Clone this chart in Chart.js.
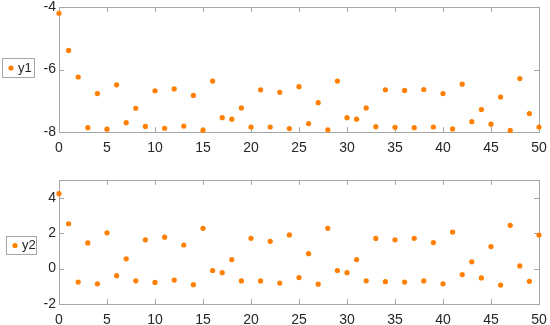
<!DOCTYPE html>
<html>
<head>
<meta charset="utf-8">
<script src="https://cdn.jsdelivr.net/npm/chart.js@4"></script>
<style>
  html, body { margin: 0; padding: 0; background: #fff; }
  .panel { position: absolute; left: 0; width: 550px; }
  #top { top: 0; height: 155px; }
  #bottom { top: 155px; height: 170px; }
</style>
</head>
<body>
<div class="panel" id="top"><canvas id="chart1" width="550" height="155"></canvas></div>
<div class="panel" id="bottom"><canvas id="chart2" width="550" height="170"></canvas></div>
<script>
// data
const xValues = [0, 1, 2, 3, 4, 5, 6, 7, 8, 9, 10, 11, 12, 13, 14, 15, 16, 17, 18, 19, 20,
  21, 22, 23, 24, 25, 26, 27, 28, 29, 30, 31, 32, 33, 34, 35, 36, 37, 38, 39, 40,
  41, 42, 43, 44, 45, 46, 47, 48, 49, 50];

const y1Values = [-4.20, -5.39, -6.24, -7.86, -6.77, -7.91, -6.49, -7.70, -7.24, -7.82, -6.68,
  -7.88, -6.62, -7.81, -6.83, -7.94, -6.37, -7.54, -7.59, -7.23, -7.84,
  -6.65, -7.84, -6.73, -7.89, -6.55, -7.73, -7.06, -7.93, -6.37, -7.54,
  -7.59, -7.23, -7.83, -6.65, -7.85, -6.67, -7.86, -6.64, -7.84, -6.77,
  -7.90, -6.47, -7.67, -7.28, -7.75, -6.88, -7.95, -6.29, -7.41, -7.84];

const y2Values = [4.23, 2.53, -0.76, 1.45, -0.86, 2.02, -0.40, 0.55, -0.69, 1.62, -0.78,
  1.77, -0.65, 1.33, -0.91, 2.27, -0.11, -0.23, 0.51, -0.70, 1.71,
  -0.70, 1.54, -0.82, 1.90, -0.51, 0.84, -0.88, 2.27, -0.11, -0.23,
  0.51, -0.69, 1.70, -0.74, 1.62, -0.76, 1.71, -0.70, 1.47, -0.86,
  2.06, -0.34, 0.38, -0.53, 1.24, -0.93, 2.44, 0.15, -0.72, 1.89];

const xTicks = [0, 5, 10, 15, 20, 25, 30, 35, 40, 45, 50];
const y1Ticks = [-8, -6, -4];
const y2Ticks = [-2, 0, 2, 4];

const ORANGE = '#ff7f00';
const FRAME = '#a6a6a6';
const TEXT = '#262626';
const FONT = { family: '"Liberation Sans", Arial, sans-serif', size: 14 };

// axes box with inward ticks on all four sides
const frameBox = {
  id: 'frameBox',
  beforeDatasetsDraw(chart) {
    const { ctx, chartArea: a, scales } = chart;
    const len = 5;
    ctx.save();
    ctx.strokeStyle = FRAME;
    ctx.lineWidth = 1;
    ctx.strokeRect(Math.round(a.left) + 0.5, Math.round(a.top) + 0.5,
      Math.round(a.right - a.left), Math.round(a.bottom - a.top));
    ctx.beginPath();
    scales.x.ticks.forEach(t => {
      const px = Math.round(scales.x.getPixelForValue(t.value)) + 0.5;
      ctx.moveTo(px, a.bottom); ctx.lineTo(px, a.bottom - len);
      ctx.moveTo(px, a.top); ctx.lineTo(px, a.top + len);
    });
    scales.y.ticks.forEach(t => {
      const py = Math.round(scales.y.getPixelForValue(t.value)) + 0.5;
      ctx.moveTo(a.left, py); ctx.lineTo(a.left + len, py);
      ctx.moveTo(a.right, py); ctx.lineTo(a.right - len, py);
    });
    ctx.stroke();
    ctx.restore();
  }
};

// small boxed legend sitting left of the axis
const sideLegend = {
  id: 'sideLegend',
  afterDraw(chart, args, opts) {
    const { ctx } = chart;
    const b = opts.box;
    ctx.save();
    ctx.strokeStyle = FRAME;
    ctx.lineWidth = 1;
    ctx.fillStyle = '#fff';
    ctx.fillRect(b.x, b.y, b.w, b.h);
    ctx.strokeRect(b.x + 0.5, b.y + 0.5, b.w, b.h);
    const cy = b.y + b.h / 2 + 0.5;
    ctx.fillStyle = ORANGE;
    ctx.beginPath();
    ctx.arc(b.x + 9, cy, 2.6, 0, Math.PI * 2);
    ctx.fill();
    ctx.fillStyle = TEXT;
    ctx.font = `13px ${FONT.family}`;
    ctx.textBaseline = 'middle';
    ctx.fillText(chart.data.datasets[0].label, b.x + 16, cy);
    ctx.restore();
  }
};

function makeChart(id, label, values, yMin, yMax, yTicks, layout, legendBox) {
  const points = xValues.map((x, i) => ({ x: x, y: values[i] }));
  return new Chart(document.getElementById(id), {
    type: 'scatter',
    data: {
      datasets: [{
        label: label,
        data: points,
        backgroundColor: ORANGE,
        borderColor: ORANGE,
        pointRadius: 2.6,
        pointBorderWidth: 0,
        clip: false
      }]
    },
    options: {
      responsive: false,
      animation: false,
      layout: { padding: { left: 0, right: 11, top: layout.top, bottom: 0 } },
      plugins: {
        legend: { display: false },
        tooltip: { enabled: false },
        sideLegend: { box: legendBox }
      },
      scales: {
        x: {
          type: 'linear',
          min: 0, max: 50,
          afterBuildTicks: s => { s.ticks = xTicks.map(v => ({ value: v })); },
          afterFit: s => {
            s.height = layout.xAxis;
            // keep label overhang from squeezing the plot box
            s.paddingLeft = 0; s.paddingRight = 0;
          },
          grid: { display: false, drawTicks: false },
          border: { display: false },
          ticks: { color: TEXT, font: FONT, padding: 8, maxRotation: 0 }
        },
        y: {
          type: 'linear',
          min: yMin, max: yMax,
          afterBuildTicks: s => { s.ticks = yTicks.map(v => ({ value: v })); },
          afterFit: s => {
            s.width = 59;
            s.paddingTop = 0; s.paddingBottom = 0;
          },
          grid: { display: false, drawTicks: false },
          border: { display: false },
          ticks: { color: TEXT, font: FONT, padding: 3 }
        }
      }
    },
    plugins: [frameBox, sideLegend]
  });
}

makeChart('chart1', 'y1', y1Values, -8, -4, y1Ticks,
  { top: 7, xAxis: 23 }, { x: 2, y: 58, w: 32, h: 19 });
makeChart('chart2', 'y2', y2Values, -2, 5, y2Ticks,
  { top: 25, xAxis: 21 }, { x: 6, y: 81, w: 30, h: 18 });
</script>
</body>
</html>
